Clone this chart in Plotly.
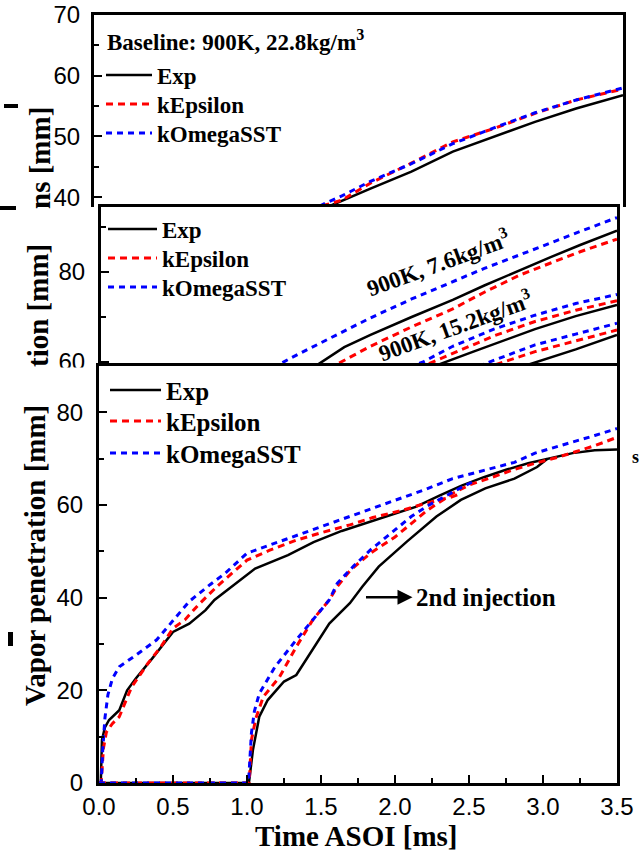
import plotly.graph_objects as go

W, H = 642, 852

# ---------------- Panel 1 (baseline 900K, 22.8 kg/m3) ----------------
p1_exp_t = [1.3, 1.557, 1.829, 2.10, 2.374, 2.646, 2.918, 3.19, 3.5]
p1_exp_v = [35.5, 38.5, 41.4, 44.2, 47.5, 50.0, 52.4, 54.6, 56.8]
p1_ke_t = [1.3, 1.53, 1.64, 1.829, 2.10, 2.374, 2.646, 2.918, 3.19, 3.5]
p1_ke_v = [35.8, 38.7, 39.5, 42.3, 45.6, 49.1, 51.3, 53.8, 56.0, 57.8]
p1_ko_t = [1.3, 1.53, 1.64, 1.829, 2.10, 2.374, 2.646, 2.918, 3.19, 3.5]
p1_ko_v = [36.0, 39.0, 40.2, 42.6, 45.5, 48.8, 51.4, 53.9, 56.0, 58.0]

# ---------------- Panel 2 (900K, 7.6 / 15.2 / denser case) ----------------
p2a_exp_t = [1.3, 1.465, 1.65, 1.828, 2.107, 2.386, 2.6, 2.84, 3.05, 3.25, 3.5]
p2a_exp_v = [56.5, 59.3, 63.3, 66.0, 70.0, 73.8, 77.0, 80.4, 83.3, 86.0, 89.2]
p2a_ke_t = [1.4, 1.548, 1.828, 2.107, 2.386, 2.6, 2.84, 3.05, 3.25, 3.5]
p2a_ke_v = [56.0, 58.6, 63.5, 67.8, 71.8, 75.5, 79.3, 82.0, 84.5, 87.3]
p2a_ko_t = [1.1, 1.283, 1.548, 1.828, 2.107, 2.386, 2.6, 2.84, 3.05, 3.25, 3.5]
p2a_ko_v = [57.5, 60.8, 65.2, 69.8, 74.0, 77.8, 80.8, 83.8, 86.5, 89.0, 92.1]

p2b_exp_t = [2.05, 2.25, 2.526, 2.944, 3.22, 3.5]
p2b_exp_v = [56.5, 59.0, 62.3, 67.3, 70.2, 72.7]
p2b_ke_t = [2.0, 2.2, 2.386, 2.665, 2.944, 3.22, 3.5]
p2b_ke_v = [56.5, 59.3, 62.0, 65.8, 69.0, 71.5, 73.6]
p2b_ko_t = [1.95, 2.19, 2.386, 2.665, 2.944, 3.22, 3.5]
p2b_ko_v = [57.0, 60.1, 63.5, 67.3, 70.4, 73.0, 75.0]

p2c_exp_t = [2.65, 2.86, 3.22, 3.5]
p2c_exp_v = [56.5, 59.0, 62.8, 66.0]
p2c_ke_t = [2.45, 2.665, 2.944, 3.22, 3.5]
p2c_ke_v = [56.5, 59.3, 62.3, 64.6, 67.1]
p2c_ko_t = [2.35, 2.58, 2.944, 3.22, 3.5]
p2c_ko_v = [56.5, 59.3, 63.8, 66.2, 68.6]

# ---------------- Panel 3 (double injection) ----------------
exp1_t = [0.0, 0.012, 0.02, 0.04, 0.068, 0.137, 0.19, 0.25, 0.36, 0.5, 0.61, 0.72, 0.78, 0.9,
          1.055, 1.277, 1.45, 1.64, 1.97, 2.14, 2.3, 2.45, 2.6, 2.75, 2.9, 3.03, 3.2, 3.35, 3.5]
exp1_v = [0, 0, 9.3, 12.0, 13.6, 15.7, 20.0, 22.6, 26.9, 32.6, 34.4, 37.3, 39.5, 42.5,
          46.3, 49.2, 52.0, 54.4, 57.8, 59.6, 62.0, 64.2, 66.0, 67.6, 69.0, 70.0, 71.2, 71.8, 72.0]
exp2_t = [0.0, 1.0, 1.013, 1.04, 1.083, 1.14, 1.25, 1.333, 1.444, 1.556, 1.695, 1.78, 1.89,
          2.08, 2.28, 2.445, 2.61, 2.807, 2.96, 3.03]
exp2_v = [0, 0, 0, 7.1, 14.3, 17.9, 21.9, 23.3, 28.7, 34.4, 38.8, 42.4, 46.7,
          52.1, 57.5, 61.1, 63.6, 65.7, 68.2, 70.0]

ke1_t = [0.0, 0.015, 0.03, 0.05, 0.09, 0.137, 0.22, 0.33, 0.42, 0.5, 0.58, 0.67, 0.8, 1.0,
         1.15, 1.333, 1.5, 1.695, 1.85, 2.056, 2.2, 2.39, 2.45]
ke1_v = [0, 0, 7.5, 11.0, 12.8, 14.3, 20.7, 25.8, 29.5, 33.4, 35.2, 38.4, 42.5, 48.1,
         50.2, 52.4, 54.0, 55.7, 57.3, 58.9, 60.3, 61.8, 62.6]
ke2_t = [0.0, 1.0, 1.015, 1.03, 1.06, 1.11, 1.22, 1.333, 1.444, 1.556, 1.61, 1.7, 1.834, 2.0,
         2.11, 2.22, 2.39, 2.5, 2.667, 2.8, 2.946, 3.1, 3.22, 3.35, 3.5]
ke2_v = [0, 0, 0, 9.3, 14.0, 18.6, 22.9, 29.4, 35.2, 39.5, 42.4, 46.0, 49.6, 53.1,
         56.0, 58.9, 62.5, 64.3, 66.1, 67.6, 69.0, 70.3, 71.5, 72.8, 74.6]

ko1_t = [0.0, 0.015, 0.025, 0.04, 0.06, 0.09, 0.137, 0.25, 0.39, 0.527, 0.61, 0.75, 0.85, 1.0,
         1.277, 1.5, 1.695, 2.0, 2.2, 2.39, 2.6, 2.807, 2.946, 3.1, 3.22, 3.35, 3.5]
ko1_v = [0, 0, 7.1, 14.0, 19.0, 22.5, 25.1, 27.6, 30.9, 36.2, 39.2, 42.8, 45.2, 49.6,
         52.8, 55.3, 57.5, 61.1, 63.3, 65.7, 67.4, 69.2, 71.2, 72.6, 73.8, 75.0, 76.5]
ko2_t = [0.0, 1.0, 1.01, 1.03, 1.05, 1.083, 1.19, 1.333, 1.444, 1.556, 1.61, 1.72, 1.834, 2.0,
         2.11, 2.22, 2.334, 2.45, 2.55]
ko2_v = [0, 0, 0, 10.8, 15.5, 19.3, 25.1, 30.9, 35.2, 39.5, 43.1, 46.8, 50.3, 54.6,
         57.5, 59.8, 61.8, 63.8, 65.4]

x_ticks = [0.0, 0.5, 1.0, 1.5, 2.0, 2.5, 3.0, 3.5]

BLACK, RED, BLUE = "#000000", "#FF0000", "#0000FF"
styles = {
    "Exp": dict(color=BLACK, width=2.5, dash="solid"),
    "kEpsilon": dict(color=RED, width=3, dash="7px,5px"),
    "kOmegaSST": dict(color=BLUE, width=3, dash="6px,5px"),
}

fig = go.Figure()


def add(t, v, name, xa, ya, legend=None):
    fig.add_trace(go.Scatter(
        x=t, y=v, mode="lines", name=name, line=styles[name],
        xaxis=xa, yaxis=ya, legend=legend or "legend", showlegend=legend is not None,
    ))


# panel 1 (one legend per entry so rows can be placed like the reference)
add(p1_exp_t, p1_exp_v, "Exp", "x", "y", "legend")
add(p1_ke_t, p1_ke_v, "kEpsilon", "x", "y", "legend2")
add(p1_ko_t, p1_ko_v, "kOmegaSST", "x", "y", "legend3")

# panel 2
add(p2a_exp_t, p2a_exp_v, "Exp", "x2", "y2", "legend4")
add(p2a_ke_t, p2a_ke_v, "kEpsilon", "x2", "y2", "legend5")
add(p2a_ko_t, p2a_ko_v, "kOmegaSST", "x2", "y2", "legend6")
for (et, ev, kt, kv, ot, ov) in [
    (p2b_exp_t, p2b_exp_v, p2b_ke_t, p2b_ke_v, p2b_ko_t, p2b_ko_v),
    (p2c_exp_t, p2c_exp_v, p2c_ke_t, p2c_ke_v, p2c_ko_t, p2c_ko_v),
]:
    add(et, ev, "Exp", "x2", "y2")
    add(kt, kv, "kEpsilon", "x2", "y2")
    add(ot, ov, "kOmegaSST", "x2", "y2")

# panel 3
add(exp1_t, exp1_v, "Exp", "x3", "y3", "legend7")
add(ke1_t, ke1_v, "kEpsilon", "x3", "y3", "legend8")
add(ko1_t, ko1_v, "kOmegaSST", "x3", "y3", "legend9")
add(exp2_t, exp2_v, "Exp", "x3", "y3")
add(ke2_t, ke2_v, "kEpsilon", "x3", "y3")
add(ko2_t, ko2_v, "kOmegaSST", "x3", "y3")


def px_x(p):
    return p / W


def px_y(p):
    return 1 - p / H


TICKFONT = dict(family="Liberation Sans, Arial, sans-serif", size=24, color="black")
SERIF = "Liberation Serif, Times New Roman, serif"

common = dict(showline=True, linecolor="black", linewidth=3, showgrid=False, zeroline=False,
              automargin=False, fixedrange=True)
MINOR = dict(ticks="inside", ticklen=5, tickwidth=2, tickcolor="black")


def leg(xpx, center_px, size, itemwidth):
    top = center_px - (0.65 * size + 8.5)
    return dict(x=px_x(xpx), y=px_y(top), xanchor="left", yanchor="top", bgcolor="rgba(0,0,0,0)",
                itemwidth=itemwidth, font=dict(family=SERIF, size=size, color="black", weight="bold"))


fig.update_layout(
    template="none",
    width=W, height=H, margin=dict(l=0, r=0, t=0, b=0, autoexpand=False),
    paper_bgcolor="white", plot_bgcolor="rgba(0,0,0,0)",
    font=dict(family="Liberation Sans, Arial, sans-serif", color="black"),
    # panel 1
    xaxis=dict(domain=[px_x(94), px_x(623)], range=[0, 3.5], anchor="y", side="top",
               showticklabels=False, ticks="", **common),
    yaxis=dict(domain=[px_y(207), px_y(15)], range=[38.37, 70], anchor="x", mirror=True,
               ticks="inside", ticklen=8, tickwidth=2, tickcolor="black",
               tickvals=[40, 50, 60, 70], tickfont=TICKFONT, ticklabelstandoff=6,
               minor=dict(tickvals=[45, 55, 65], **MINOR), **common),
    # panel 2
    xaxis2=dict(domain=[px_x(101), px_x(617)], range=[0, 3.5], anchor="y2", side="top",
                showticklabels=False, ticks="", **common),
    yaxis2=dict(domain=[px_y(366), px_y(207)], range=[59.11, 94.44], anchor="x2", mirror=True,
                ticks="inside", ticklen=8, tickwidth=2, tickcolor="black",
                tickvals=[60, 80], tickfont=TICKFONT, ticklabelstandoff=8,
                minor=dict(tickvals=[70, 90], **MINOR), **common),
    # panel 3
    xaxis3=dict(domain=[px_x(99), px_x(617)], range=[0, 3.5], anchor="y3", mirror=True,
                ticks="inside", ticklen=8, tickwidth=2, tickcolor="black",
                tickvals=x_ticks, ticktext=[f"{v:.1f}" for v in x_ticks], tickfont=TICKFONT,
                minor=dict(dtick=0.25, **MINOR), **common),
    yaxis3=dict(domain=[px_y(783), px_y(366)], range=[0, 90], anchor="x3", mirror=True,
                ticks="inside", ticklen=8, tickwidth=2, tickcolor="black",
                tickvals=[0, 20, 40, 60, 80], tickfont=TICKFONT, ticklabelstandoff=8,
                minor=dict(tickvals=[10, 30, 50, 70, 90], **MINOR), **common),
    legend=leg(101, 77, 23, 46),
    legend2=leg(101, 106, 23, 46),
    legend3=leg(101, 135, 23, 46),
    legend4=leg(103, 231, 23, 49),
    legend5=leg(103, 260, 23, 49),
    legend6=leg(103, 289, 23, 49),
    legend7=leg(105, 392, 25, 51),
    legend8=leg(105, 423, 25, 51),
    legend9=leg(105, 455, 25, 51),
)

ann_font = dict(family=SERIF, size=29, color="black", weight="bold")
annotations = [
    dict(text="Vapor penetration [mm]", textangle=-90, x=px_x(35), y=px_y(556), xref="paper", yref="paper",
         showarrow=False, font=ann_font, xanchor="center", yanchor="middle"),
    dict(text="tion [mm]", textangle=-90, x=px_x(38), y=px_y(306), xref="paper", yref="paper",
         showarrow=False, font=ann_font, xanchor="center", yanchor="middle"),
    dict(text="ns [mm]", textangle=-90, x=px_x(40), y=px_y(158), xref="paper", yref="paper",
         showarrow=False, font=ann_font, xanchor="center", yanchor="middle"),
    dict(text="Time ASOI [ms]", x=px_x(356), y=px_y(836), xref="paper", yref="paper",
         showarrow=False, font=ann_font, xanchor="center", yanchor="middle"),
    dict(text="s", x=px_x(640), y=px_y(457), xref="paper", yref="paper",
         showarrow=False, font=dict(family=SERIF, size=18, color="black", weight="bold"),
         xanchor="right", yanchor="middle", borderpad=0),
    dict(text="Baseline: 900K, 22.8kg/m<sup>3</sup>", x=0.075, y=65.8, xref="x", yref="y",
         showarrow=False, font=dict(family=SERIF, size=23, color="black", weight="bold"),
         xanchor="left", yanchor="middle"),
    dict(text="900K, 7.6kg/m<sup>3</sup>", x=2.286, y=82.0, xref="x2", yref="y2", textangle=-20,
         showarrow=False, font=dict(family=SERIF, size=23, color="black", weight="bold"),
         xanchor="center", yanchor="middle"),
    dict(text="900K, 15.2kg/m<sup>3</sup>", x=2.40, y=68.2, xref="x2", yref="y2", textangle=-20,
         showarrow=False, font=dict(family=SERIF, size=23, color="black", weight="bold"),
         xanchor="center", yanchor="middle"),
    # text with an arrow whose head points at the text (arrow drawn at its start)
    dict(text="2nd injection", x=1.804, y=40.1, xref="x3", yref="y3",
         ax=2.615, ay=40.1, axref="x3", ayref="y3",
         showarrow=True, arrowside="start", startarrowhead=2, startarrowsize=1.2,
         arrowwidth=2.5, arrowcolor="black", startstandoff=2,
         font=dict(family=SERIF, size=25, color="black", weight="bold")),
]
fig.update_layout(annotations=annotations)

shapes = [
    # white cover hiding lower half of panel 2's bottom tick label (overlapped by panel 3)
    dict(type="rect", xref="paper", yref="paper", x0=px_x(40), x1=px_x(95), y0=px_y(382), y1=px_y(367.5),
         fillcolor="white", line=dict(width=0), layer="above"),
    # cropped fragments at the left edge
    dict(type="rect", xref="paper", yref="paper", x0=px_x(4), x1=px_x(18), y0=px_y(108), y1=px_y(104),
         fillcolor="black", line=dict(width=0), layer="above"),
    dict(type="rect", xref="paper", yref="paper", x0=px_x(0), x1=px_x(16), y0=px_y(210), y1=px_y(206),
         fillcolor="black", line=dict(width=0), layer="above"),
    dict(type="rect", xref="paper", yref="paper", x0=px_x(8), x1=px_x(13), y0=px_y(646), y1=px_y(632),
         fillcolor="black", line=dict(width=0), layer="above"),
]
fig.update_layout(shapes=shapes)

fig.write_html("out.html")
